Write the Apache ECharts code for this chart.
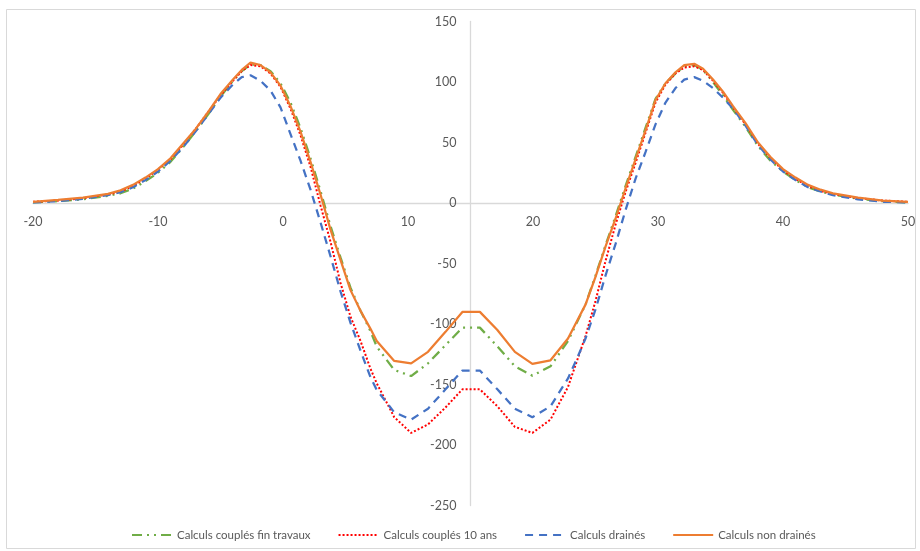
<!DOCTYPE html>
<html>
<head>
<meta charset="utf-8">
<script src="https://cdn.jsdelivr.net/npm/echarts@6/dist/echarts.min.js"></script>
<style>
html,body{margin:0;padding:0;background:#fff;}
#chart{width:920px;height:551px;}
</style>
</head>
<body>
<div id="chart"></div>
<script>
const xs = [-20,-18,-16,-14,-13,-12,-11,-10,-9,-8,-7,-6,-5,-4,-3.3,-2.6,-1.8,-1,-0.2,0.6,1.4,2.2,3,3.8,4.6,5.4,6.2,7,7.5,8.9,10.25,11.6,13,14.35,15.75,17.15,18.55,19.95,21.4,22.8,23.5,24.2,25,25.8,26.6,27.4,28.2,29,29.8,30.6,31.4,32.1,32.9,33.6,34.4,35.2,36,37,38,39,40,41,42,43,44,46,48,50];

const finTravaux = [0.5,1.5,3,6,8,12,18,25,34,46,59,73,88,101,109,114.5,114,109,99,83,62,37,10,-19,-45,-70,-89,-106,-118.7,-138,-143,-132.5,-117.5,-103,-103,-118.5,-135,-142.7,-135,-114,-99,-84,-60,-35,-11,14,38,62,86,99,107,113,114,110,100,89,77,63,47,35,26,19,13,9.5,7,3.5,1.5,0.5];

const dixAns = [1,2,4,7,9.5,14,20,27.5,36,48,61,75,89,101,109,114,113,107,96,78,56,30,-2,-32,-66,-94,-114,-137,-149,-177,-190,-183,-169,-154,-154,-168,-185,-190,-179,-152,-131,-110,-81,-48,-18,9,33,58,83,98,107,112,113,110,101,91,79,65,49,37,27,20,14,10,7.5,4,2,1];

const draines = [0.5,1.5,3.5,6.5,9,13,19,26,35,46,59,73,87,98,104,105.5,101,93,79,57,35,11,-16,-44,-73,-99,-122,-144,-154.5,-173,-179,-170,-154,-138.5,-138.5,-154,-170,-177,-168,-145,-129,-112,-88,-60,-34,-6,20,42,65,83,95,102,104,101,95,87,78,64,48,36,26,19,13,9.5,6.5,3,1,0.5];

const nonDraines = [1,2.5,4.5,7.5,10.5,15,21,28,37,49,61,75,90,102,110,116,114,108,97,80,59,34,7,-22,-47,-72,-89,-104,-114,-130.5,-132.5,-123,-106.5,-90,-90,-105,-123,-133,-130,-112,-98,-84,-61,-36,-13,12,36,60,85,99,108,114,115,111,102,92,80,66,50,38,28,21,15,11,8,4.5,2,1];

const seriesNames = ['Calculs couplés fin travaux','Calculs couplés 10 ans','Calculs drainés','Calculs non drainés'];
const xTicks = {min:-20, max:50, interval:10};
const yTicks = {min:-250, max:150, interval:50};
const yAxisCross = 15;   // vertical axis crosses the horizontal one at x = 15
const xAxisCross = 0;    // horizontal axis crosses at y = 0

const pairs = arr => xs.map((x,i)=>[x,arr[i]]);

const W = 920, H = 551;
const gridLeft = 33, gridRight = 12, gridTop = 21.5, gridBottom = 45.5;
const gridWidth = W - gridLeft - gridRight;
const gridHeight = H - gridTop - gridBottom;
const yOffset = -((yAxisCross - xTicks.min) / (xTicks.max - xTicks.min)) * gridWidth;
const xOffset = -((xAxisCross - yTicks.min) / (yTicks.max - yTicks.min)) * gridHeight;

const font = 'Lato, "Open Sans", sans-serif';
const chart = echarts.init(document.getElementById('chart'), null, {renderer:'canvas'});
chart.setOption({
  animation:false,
  backgroundColor:'#ffffff',
  graphic:[{type:'rect', shape:{x:6.5,y:9.5,width:909,height:539}, style:{fill:'none', stroke:'#d9d9d9', lineWidth:1}, silent:true}],
  grid:{left:gridLeft, right:gridRight, top:gridTop, bottom:gridBottom, containLabel:false},
  legend:{
    bottom:5, left:126,
    itemWidth:40, itemHeight:10, itemGap:27,
    itemStyle:{opacity:0},
    textStyle:{color:'#595959', fontSize:11.5, fontFamily:font},
    data:seriesNames
  },
  xAxis:{
    type:'value', min:xTicks.min, max:xTicks.max, interval:xTicks.interval,
    position:'bottom', offset:xOffset,
    axisLine:{show:true, onZero:false, lineStyle:{color:'#d9d9d9', width:1.3}},
    axisTick:{show:false},
    splitLine:{show:false},
    axisLabel:{color:'#595959', fontSize:12.5, fontFamily:font, margin:12}
  },
  yAxis:{
    type:'value', min:yTicks.min, max:yTicks.max, interval:yTicks.interval,
    position:'left', offset:yOffset,
    axisLine:{show:true, onZero:false, lineStyle:{color:'#d9d9d9', width:1.3}},
    axisTick:{show:false},
    splitLine:{show:false},
    axisLabel:{color:'#595959', fontSize:12.5, fontFamily:font, margin:14}
  },
  series:[
    {name:seriesNames[0], type:'line', data:pairs(finTravaux), showSymbol:false, symbol:'none',
     lineStyle:{color:'#70AD47', width:2.25, type:[10,5,2,5,2,5]}, itemStyle:{color:'#70AD47'}, z:2},
    {name:seriesNames[1], type:'line', data:pairs(dixAns), showSymbol:false, symbol:'none',
     lineStyle:{color:'#FF0000', width:2, type:[2,2]}, itemStyle:{color:'#FF0000'}, z:3},
    {name:seriesNames[2], type:'line', data:pairs(draines), showSymbol:false, symbol:'none',
     lineStyle:{color:'#4472C4', width:2.25, type:[8,6]}, itemStyle:{color:'#4472C4'}, z:4},
    {name:seriesNames[3], type:'line', data:pairs(nonDraines), showSymbol:false, symbol:'none',
     lineStyle:{color:'#ED7D31', width:2.25, type:'solid'}, itemStyle:{color:'#ED7D31'}, z:5}
  ]
});
</script>
</body>
</html>
